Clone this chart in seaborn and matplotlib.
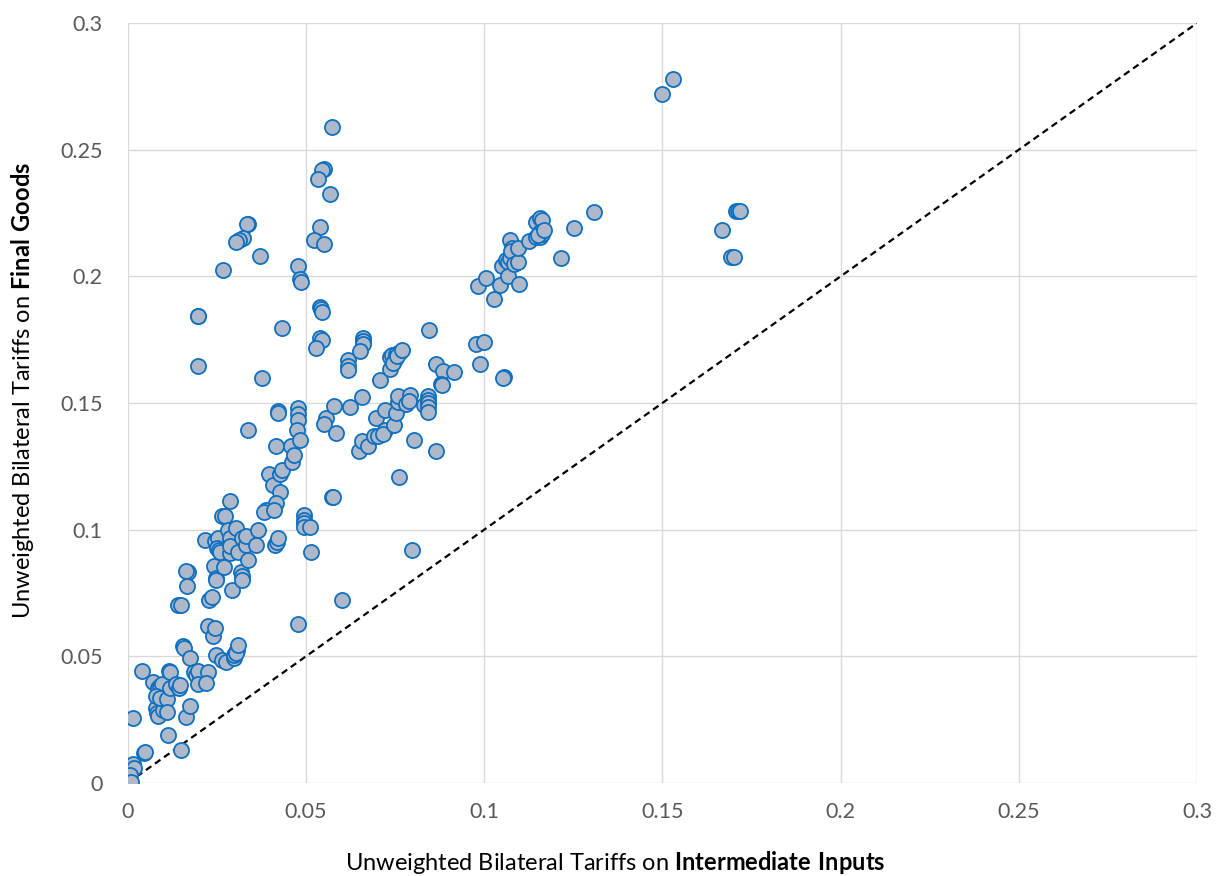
import matplotlib
matplotlib.use("Agg")
import matplotlib.pyplot as plt
import seaborn as sns
import pandas as pd

# tariffs, (intermediate inputs, final goods)
inter_inputs = [
    0.150, 0.153, 0.0573, 0.055, 0.0545, 0.0533, 0.0567, 0.0337, 0.0335,
    0.0323, 0.0312, 0.0303, 0.0267, 0.037, 0.054, 0.0522, 0.055, 0.0477,
    0.0483, 0.0486, 0.0196, 0.0197, 0.0196, 0.0432, 0.054, 0.0541, 0.0545,
    0.054, 0.0545, 0.0528, 0.0376, 0.0337, 0.0421, 0.0421, 0.0415, 0.0396,
    0.0407, 0.0427, 0.0432, 0.0457, 0.046, 0.0466, 0.0427, 0.0415, 0.0387,
    0.0382, 0.041, 0.0477, 0.0477, 0.0477, 0.0474, 0.0483, 0.0556, 0.055,
    0.0578, 0.0584, 0.0623, 0.0617, 0.0617, 0.0619, 0.066, 0.066, 0.066,
    0.0651, 0.0657, 0.0648, 0.0657, 0.0674, 0.0573, 0.0575, 0.0707, 0.0696,
    0.069, 0.0701, 0.0721, 0.0721, 0.0716, 0.0735, 0.0735, 0.0741, 0.0752,
    0.0763, 0.0749, 0.0744, 0.0755, 0.0769, 0.0746, 0.0752, 0.0758, 0.0758,
    0.0761, 0.078, 0.0792, 0.0789, 0.0803, 0.0797, 0.0831, 0.0842, 0.0842,
    0.0842, 0.0842, 0.0842, 0.0845, 0.0864, 0.0864, 0.0884, 0.0879, 0.0882,
    0.0915, 0.0977, 0.0999, 0.0988, 0.0982, 0.1005, 0.1027, 0.1044, 0.105,
    0.1055, 0.1053, 0.1061, 0.1066, 0.1072, 0.1072, 0.1078, 0.1075, 0.1066,
    0.1083, 0.1094, 0.1094, 0.1097, 0.1125, 0.1145, 0.1156, 0.1162, 0.1145,
    0.1156, 0.1162, 0.1156, 0.115, 0.1168, 0.1215, 0.1252, 0.1308, 0.1667,
    0.1693, 0.1701, 0.1706, 0.1712, 0.1718,
    0.0014, 0.0039, 0.0045, 0.0048, 0.0014, 0.0017, 0.0006, 0.0, 0.0008,
    0.007, 0.0084, 0.009, 0.0096, 0.0079, 0.0081, 0.0084, 0.0098, 0.0079,
    0.009, 0.011, 0.011, 0.0112, 0.0115, 0.0118, 0.0118, 0.0135, 0.0143,
    0.0146, 0.0149, 0.0163, 0.0174, 0.014, 0.0149, 0.0154, 0.0157, 0.0168,
    0.0163, 0.0166, 0.0174, 0.0185, 0.0191, 0.0202, 0.0196, 0.0196, 0.0225,
    0.0219, 0.0216, 0.0225, 0.0227, 0.0236, 0.0239, 0.0244, 0.0241, 0.0247,
    0.0247, 0.0244, 0.0253, 0.025, 0.0255, 0.0258, 0.0247, 0.0264, 0.0272,
    0.0269, 0.0264, 0.0275, 0.028, 0.0286, 0.0286, 0.0286, 0.0286, 0.0292,
    0.0298, 0.0298, 0.0303, 0.0306, 0.0303, 0.0309, 0.0303, 0.0309, 0.0317,
    0.032, 0.032, 0.032, 0.0331, 0.0337, 0.0331, 0.0365, 0.0359, 0.0413,
    0.0418, 0.0421, 0.0494, 0.0494, 0.0494, 0.0494, 0.0511, 0.0514, 0.0477,
    0.06,
]
final_goods = [
    0.272, 0.278, 0.259, 0.2425, 0.242, 0.2385, 0.2325, 0.2207, 0.2207,
    0.215, 0.2144, 0.2136, 0.2025, 0.208, 0.2195, 0.2144, 0.2128, 0.204,
    0.199, 0.1978, 0.1844, 0.1844, 0.1646, 0.1796, 0.188, 0.187, 0.186,
    0.1757, 0.175, 0.1717, 0.160, 0.1393, 0.1469, 0.146, 0.133, 0.122,
    0.1176, 0.122, 0.1236, 0.133, 0.1267, 0.1295, 0.1149, 0.1105, 0.1078,
    0.107, 0.1078, 0.148, 0.1457, 0.1433, 0.1394, 0.1354, 0.1441, 0.1417,
    0.1488, 0.1382, 0.1484, 0.167, 0.1646, 0.163, 0.1757, 0.1745, 0.1733,
    0.1705, 0.1524, 0.131, 0.135, 0.133, 0.1129, 0.1129, 0.159, 0.1441,
    0.137, 0.137, 0.1472, 0.1393, 0.1377, 0.1634, 0.1682, 0.169, 0.1694,
    0.1702, 0.1674, 0.1658, 0.1686, 0.171, 0.1413, 0.146, 0.1504, 0.1528,
    0.1208, 0.1496, 0.1532, 0.1508, 0.1354, 0.092, 0.1492, 0.1528, 0.1512,
    0.150, 0.1484, 0.1465, 0.1788, 0.1311, 0.1654, 0.1626, 0.1575, 0.1572,
    0.1622, 0.1733, 0.1741, 0.1654, 0.1962, 0.1993, 0.191, 0.1966, 0.2041,
    0.1603, 0.1599, 0.2066, 0.2058, 0.2072, 0.2144, 0.2112, 0.2102, 0.2002,
    0.2049, 0.2057, 0.2112, 0.197, 0.214, 0.2215, 0.2231, 0.2223, 0.2155,
    0.2157, 0.2167, 0.2175, 0.2162, 0.2182, 0.2073, 0.2191, 0.2254, 0.2183,
    0.2077, 0.2077, 0.2258, 0.2258, 0.2258,
    0.0257, 0.0442, 0.0118, 0.0122, 0.0075, 0.006, 0.003, 0.0, 0.0005,
    0.0399, 0.0375, 0.0383, 0.039, 0.0296, 0.0276, 0.0264, 0.0288, 0.0343,
    0.0336, 0.0332, 0.028, 0.019, 0.0442, 0.0438, 0.0375, 0.039, 0.0375,
    0.0387, 0.013, 0.026, 0.0304, 0.0703, 0.0703, 0.054, 0.0532, 0.0833,
    0.0837, 0.0778, 0.0494, 0.0438, 0.0426, 0.0422, 0.0443, 0.0391, 0.0438,
    0.0395, 0.0959, 0.062, 0.0722, 0.0734, 0.058, 0.0612, 0.0857, 0.0809,
    0.0801, 0.0955, 0.0967, 0.0928, 0.092, 0.0912, 0.0505, 0.1054, 0.1054,
    0.0853, 0.0486, 0.0478, 0.0999, 0.1113, 0.0967, 0.0908, 0.0935, 0.0762,
    0.0494, 0.0505, 0.0517, 0.0525, 0.0513, 0.0545, 0.1007, 0.0912, 0.0833,
    0.0817, 0.0801, 0.0967, 0.0939, 0.088, 0.0975, 0.0999, 0.0939, 0.0939,
    0.0951, 0.0967, 0.1058, 0.1038, 0.1026, 0.101, 0.101, 0.0912, 0.0628,
    0.0722,
]
diag = [0, 0.3]
ticks = [0, 0.05, 0.1, 0.15, 0.2, 0.25, 0.3]
tick_labels = ["0", "0.05", "0.1", "0.15", "0.2", "0.25", "0.3"]

df = pd.DataFrame({"inter": inter_inputs, "final": final_goods})

sns.set_style("white")
plt.rcParams["font.family"] = ["Lato", "DejaVu Sans"]
plt.rcParams["mathtext.fontset"] = "custom"
plt.rcParams["mathtext.rm"] = "Lato"
plt.rcParams["mathtext.bf"] = "Lato:bold"

fig = plt.figure(figsize=(12.17, 8.76), dpi=100)
ax = fig.add_axes([0.105, 0.1062, 0.8786, 0.8675])

ax.plot(diag, diag, color="black", linestyle=(0, (3, 2)), linewidth=1.6, zorder=2)
sns.scatterplot(data=df, x="inter", y="final", ax=ax, s=118,
                color="#ADB9CA", edgecolor="#1070C0", linewidth=1.3, zorder=3)

ax.set_xlim(0, 0.3)
ax.set_ylim(0, 0.3)
ax.set_xticks(ticks)
ax.set_yticks(ticks)
ax.set_xticklabels(tick_labels)
ax.set_yticklabels(tick_labels)
ax.grid(True, color="#D9D9D9", linewidth=1)
ax.set_axisbelow(True)
for sp in ax.spines.values():
    sp.set_visible(False)
ax.tick_params(axis="both", length=0, labelsize=15.5, colors="#595959")
ax.tick_params(axis="x", pad=14)
ax.tick_params(axis="y", pad=18)

ax.set_xlabel(r"Unweighted Bilateral Tariffs on $\bf{Intermediate\ Inputs}$",
              fontsize=17, color="black")
ax.set_ylabel(r"Unweighted Bilateral Tariffs on $\bf{Final\ Goods}$",
              fontsize=17, color="black")
# labels sit a bit off-centre from the plot area, as in the original
ax.xaxis.label.set(va="center", ha="center")
ax.xaxis.set_label_coords(0.4556, -0.104)
ax.yaxis.label.set(rotation_mode="default", va="center", ha="center")
ax.yaxis.set_label_coords(-0.098, 0.516)

fig.savefig("out.png", dpi=100)
